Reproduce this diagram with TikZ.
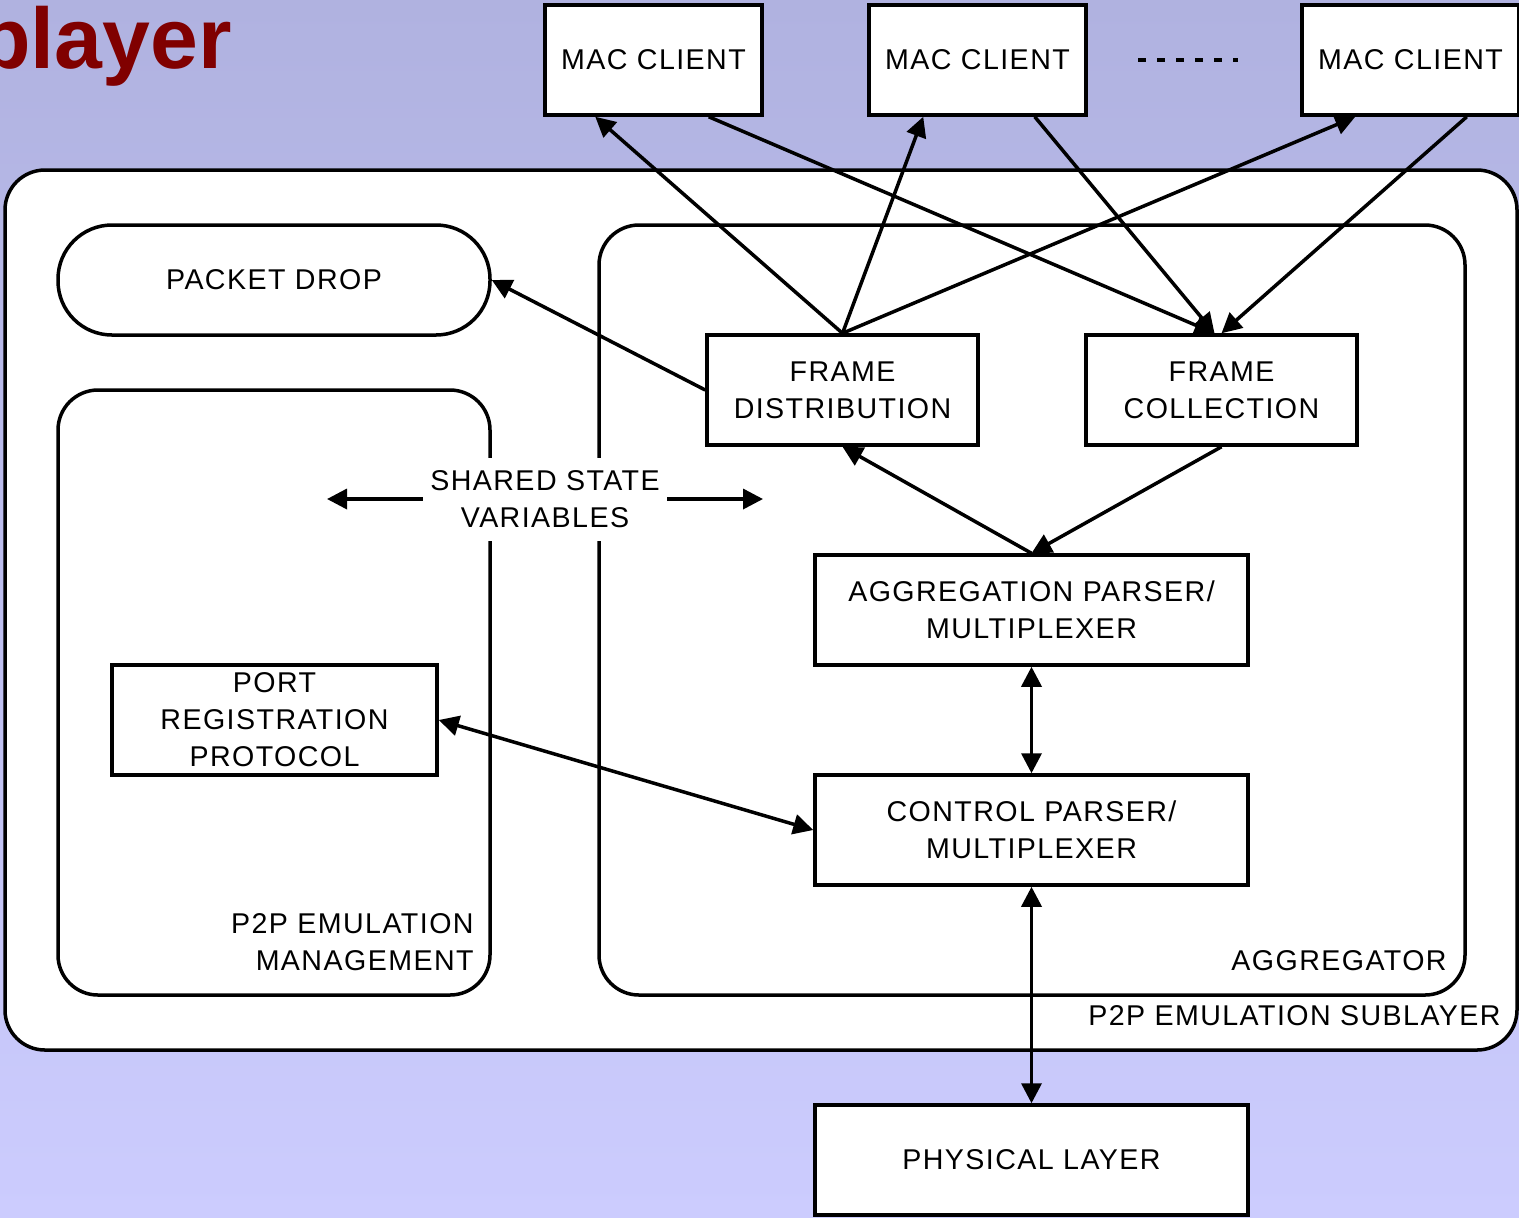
\documentclass[tikz,border=0pt]{standalone}
\usepackage{fontspec}
\setmainfont{Liberation Sans}
\newfontfamily\boxfont[LetterSpace=5]{Liberation Sans}
\usetikzlibrary{arrows.meta,calc}
\definecolor{bgtop}{HTML}{B0B2E0}
\definecolor{bgbot}{HTML}{CCCCFE}
\definecolor{titlered}{HTML}{800000}
\tikzset{
  lw/.style={line width=1.75pt},
  txt/.style={font=\fontsize{14.3pt}{18.5pt}\selectfont\boxfont, align=center, inner sep=0pt},
  block/.style={txt, draw, lw, fill=white, minimum height=55pt},
  region/.style={draw, lw, fill=white, rounded corners=20pt, inner sep=0pt},
  conn/.style={lw, -{Triangle[length=10pt,width=10pt]}},
  biconn/.style={lw, {Triangle[length=10pt,width=10pt]}-{Triangle[length=10pt,width=10pt]}},
}
\begin{document}
\begin{tikzpicture}[x=0.5pt,y=-0.5pt]
  % page and backdrop
  \useasboundingbox (0,0) rectangle (1519,1217);
  \shade[top color=bgtop, bottom color=bgbot] (0,0) rectangle (1519,1217);
  \node[anchor=base west, inner sep=0pt, text=titlered,
        font=\fontsize{43pt}{43pt}\selectfont\bfseries] (title) at (-22,68) {player};

  % containers
  \node[region, minimum width=756pt, minimum height=440pt] (sublayer) at (761,610) {};
  \node[region, minimum width=216pt, minimum height=302.5pt] (mgmt) at (274,692.5) {};
  \node[region, minimum width=433pt, minimum height=385pt] (aggr) at (1032,610) {};

  % MAC clients
  \node[block, minimum width=108.5pt] (mac1) at (653.5,60) {MAC CLIENT};
  \node[block, minimum width=108.5pt] (mac2) at (977.5,60) {MAC CLIENT};
  \node[block, minimum width=108.5pt] (mac3) at (1410.5,60) {MAC CLIENT};
  \coordinate (dotsA) at (1138,60);
  \coordinate (dotsB) at (1238,60);
  \draw[line width=1.9pt, dash pattern=on 4pt off 5.5pt] (dotsA) -- (dotsB);

  % blocks inside the sublayer
  \node[block, minimum width=216pt, rounded corners=27pt] (drop) at (274,280) {PACKET DROP};
  \node[block, minimum width=135.5pt] (fd) at (842.5,390) {FRAME\\DISTRIBUTION};
  \node[block, minimum width=135.5pt] (fc) at (1221.5,390) {FRAME\\COLLECTION};
  \node[block, minimum width=216.5pt] (agg) at (1031.5,610) {AGGREGATION PARSER/\\MULTIPLEXER};
  \node[block, minimum width=216.5pt] (ctrl) at (1031.5,830) {CONTROL PARSER/\\MULTIPLEXER};
  \node[block, minimum width=162.5pt] (port) at (274.5,720) {PORT\\REGISTRATION\\PROTOCOL};
  \node[block, minimum width=216.5pt] (phy) at (1031.5,1160) {PHYSICAL LAYER};

  % shared state label bridging the two regions
  \node[txt, fill=white, minimum width=122pt, minimum height=41.5pt] (ssv) at (545,499)
       {SHARED STATE\\VARIABLES};
  \coordinate (ssvL) at (327,499);
  \coordinate (ssvR) at (763,499);
  \draw[conn] (ssv.west) -- (ssvL);
  \draw[conn] (ssv.east) -- (ssvR);

  % region captions (base anchor sits on the last line)
  \node[txt, align=right, anchor=base east] (mgmtlbl) at (474,970) {P2P EMULATION\\MANAGEMENT};
  \node[txt, anchor=base east] (aggrlbl) at (1447,970) {AGGREGATOR};
  \node[txt, anchor=base east] (sublbl) at (1501,1025) {P2P EMULATION SUBLAYER};

  % frame distribution to clients
  \draw[conn] (fd.north) -- ($(mac1.south west)+(52,0)$);
  \draw[conn] (fd.north) -- ($(mac2.south west)+(56,0)$);
  \draw[conn] (fd.north) -- ($(mac3.south west)+(55,0)$);
  % clients to frame collection
  \draw[conn] ($(mac1.south east)+(-55,0)$) -- ($(fc.north)+(-7,0)$);
  \draw[conn] ($(mac2.south east)+(-53,0)$) -- ($(fc.north)+(-7,0)$);
  \draw[conn] ($(mac3.south east)+(-54,0)$) -- (fc.north);
  % remaining flows
  \draw[conn] (fd.west) -- (drop.east);
  \draw[conn] (agg.north) -- (fd.south);
  \draw[conn] (fc.south) -- (agg.north);
  \draw[biconn] (agg.south) -- (ctrl.north);
  \draw[biconn] (port.east) -- (ctrl.west);
  \draw[biconn] (ctrl.south) -- (phy.north);
\end{tikzpicture}
\end{document}
